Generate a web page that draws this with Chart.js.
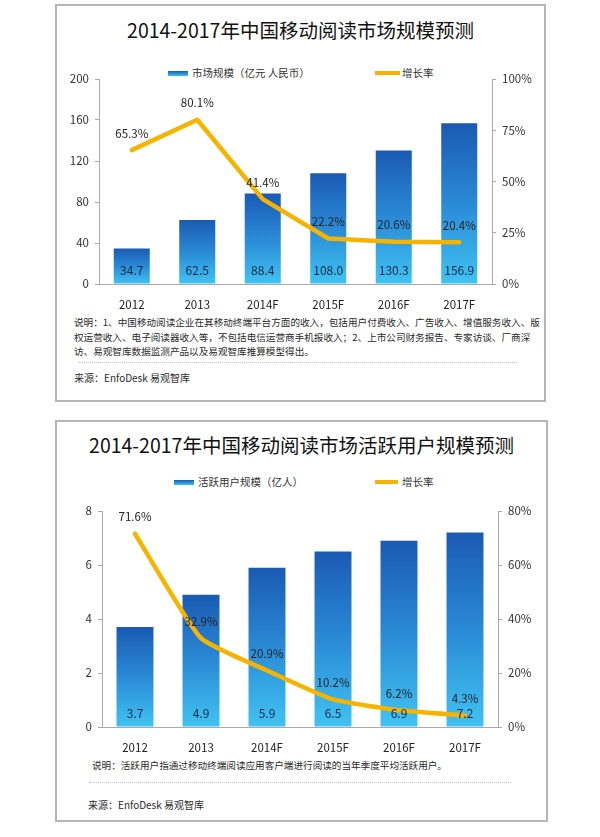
<!DOCTYPE html>
<html><head><meta charset="utf-8">
<script src="https://cdn.jsdelivr.net/npm/chart.js@4.4.1/dist/chart.umd.min.js"></script>
<style>
html,body{margin:0;padding:0;background:#fff;}
body{width:600px;height:837px;position:relative;overflow:hidden;font-family:"Noto Sans CJK SC","Noto Sans",sans-serif;color:#222;}
.panel{position:absolute;box-sizing:border-box;border:2px solid #b5b5b5;background:#fff;}
.abs{position:absolute;white-space:nowrap;}
.title{font-size:19.5px;font-weight:400;color:#111;text-align:center;line-height:24px;}
.leg{font-size:10.5px;color:#333;line-height:14px;}
.sw{position:absolute;height:5px;}
.note{font-size:9.6px;color:#2a2a2a;line-height:14.5px;}
.src{font-size:10px;color:#2a2a2a;line-height:14px;}
.sep{position:absolute;height:0;border-top:1px dotted #bdbdbd;}
canvas{position:absolute;}
</style></head>
<body>
<div class="panel" style="left:55px;top:4px;width:491px;height:398px;"></div>
<div class="panel" style="left:55px;top:420px;width:493px;height:402px;"></div>

<div id="t1" class="abs title" style="left:55px;width:491px;top:18px;"></div>
<div class="sw" style="left:168px;top:71px;width:20px;background:linear-gradient(#1b5cb5,#3ec0f0);"></div>
<div id="l1a" class="abs leg" style="left:192px;top:66px;"></div>
<div class="sw" style="left:375px;top:71px;width:25px;height:4px;background:#f6b300;"></div>
<div id="l1b" class="abs leg" style="left:402px;top:66px;"></div>
<canvas id="c1" width="488" height="250" style="left:56px;top:62px;width:488px;height:250px;"></canvas>
<div id="n1" class="abs note" style="left:74px;top:315px;"></div>
<div class="sep" style="left:79px;top:362px;width:438px;"></div>
<div id="s1" class="abs src" style="left:74px;top:371px;"></div>

<div id="t2" class="abs title" style="left:55px;width:493px;top:433px;"></div>
<div class="sw" style="left:174px;top:480px;width:20px;background:linear-gradient(#1b5cb5,#3ec0f0);"></div>
<div id="l2a" class="abs leg" style="left:198px;top:475px;"></div>
<div class="sw" style="left:375px;top:480px;width:23px;height:4px;background:#f6b300;"></div>
<div id="l2b" class="abs leg" style="left:402px;top:475px;"></div>
<canvas id="c2" width="490" height="262" style="left:56px;top:495px;width:490px;height:262px;"></canvas>
<div id="n2" class="abs note" style="left:92px;top:758px;"></div>
<div class="sep" style="left:89px;top:782px;width:422px;"></div>
<div id="s2" class="abs src" style="left:88px;top:798px;"></div>

<script>
// ---------- data ----------
const categories = ['2012','2013','2014F','2015F','2016F','2017F'];

const title1 = '2014-2017年中国移动阅读市场规模预测';
const barLabel1 = '市场规模（亿元 人民币）';
const lineLabel1 = '增长率';
const marketSize = [34.7, 62.5, 88.4, 108.0, 130.3, 156.9];
const marketGrowth = [65.3, 80.1, 41.4, 22.2, 20.6, 20.4];
const leftTicks1 = ['0','40','80','120','160','200'];
const rightTicks1 = ['0%','25%','50%','75%','100%'];
const notes1 = [
  '说明：1、中国移动阅读企业在其移动终端平台方面的收入，包括用户付费收入、广告收入、增值服务收入、版',
  '权运营收入、电子阅读器收入等，不包括电信运营商手机报收入；2、上市公司财务报告、专家访谈、厂商深',
  '访、易观智库数据监测产品以及易观智库推算模型得出。'
];
const source1 = '来源：EnfoDesk 易观智库';

const title2 = '2014-2017年中国移动阅读市场活跃用户规模预测';
const barLabel2 = '活跃用户规模（亿人）';
const lineLabel2 = '增长率';
const activeUsers = [3.7, 4.9, 5.9, 6.5, 6.9, 7.2];
const userGrowth = [71.6, 32.9, 20.9, 10.2, 6.2, 4.3];
const leftTicks2 = ['0','2','4','6','8'];
const rightTicks2 = ['0%','20%','40%','60%','80%'];
const notes2 = ['说明：活跃用户指通过移动终端阅读应用客户端进行阅读的当年季度平均活跃用户。'];
const source2 = '来源：EnfoDesk 易观智库';

// ---------- texts ----------
document.getElementById('t1').textContent = title1;
document.getElementById('l1a').textContent = barLabel1;
document.getElementById('l1b').textContent = lineLabel1;
document.getElementById('n1').innerHTML = notes1.join('<br>');
document.getElementById('s1').textContent = source1;
document.getElementById('t2').textContent = title2;
document.getElementById('l2a').textContent = barLabel2;
document.getElementById('l2b').textContent = lineLabel2;
document.getElementById('n2').innerHTML = notes2.join('<br>');
document.getElementById('s2').textContent = source2;

const FONT = '"Noto Sans CJK SC","Noto Sans",sans-serif';
const AXIS = '#a9a9a9';

function barGradient(ctx){
  const c = ctx.chart, ys = c.scales.y;
  if (!ys || ctx.type !== 'data') return '#2a7fd0';
  const top = ys.getPixelForValue(ctx.raw), bot = ys.getPixelForValue(0);
  if (!isFinite(top) || !isFinite(bot) || Math.abs(bot-top) < 1) return '#2a7fd0';
  const g = c.ctx.createLinearGradient(0, top, 0, bot);
  g.addColorStop(0, '#1a5ab3');
  g.addColorStop(0.5, '#2a8ad6');
  g.addColorStop(1, '#40c3f2');
  return g;
}

const labelPlugin = {
  id: 'vlabels',
  afterDatasetsDraw(chart){
    const ctx = chart.ctx;
    ctx.save();
    ctx.textAlign = 'center';
    ctx.textBaseline = 'middle';
    chart.data.datasets.forEach((ds, i) => {
      const meta = chart.getDatasetMeta(i);
      meta.data.forEach((el, j) => {
        const v = ds.data[j];
        if (ds.type === 'bar') {
          ctx.font = '12px ' + FONT;
          ctx.fillStyle = '#172846';
          ctx.fillText(v.toFixed(1), el.x, el.base - 13);
        } else {
          ctx.font = '11.5px ' + FONT;
          ctx.fillStyle = '#222';
          ctx.fillText(v.toFixed(1) + '%', el.x, el.y - 17);
        }
      });
    });
    ctx.restore();
  }
};

function makeChart(id, bars, line, yMax, yStep, y1Max, y1Step, lTicks, rTicks, geo, tension, barPct){
  return new Chart(document.getElementById(id), {
    data: {
      labels: categories,
      datasets: [
        { type:'line', data: line, yAxisID:'y1', order:0, borderColor:'#f6b300', borderWidth:4.5,
          pointRadius:0, tension: tension, borderJoinStyle:'round', borderCapStyle:'round', fill:false },
        { type:'bar', data: bars, yAxisID:'y', order:1, backgroundColor: barGradient,
          barPercentage: barPct, categoryPercentage: 1, borderWidth:0 }
      ]
    },
    options: {
      responsive:false, animation:false, devicePixelRatio:1,
      layout:{ padding:{ top: geo.top, bottom:0, left:0, right:0 } },
      plugins:{ legend:{display:false}, tooltip:{enabled:false} },
      scales:{
        x:{ grid:{display:false}, border:{display:true, color:AXIS, width:1},
            ticks:{ color:'#222', font:{family:FONT, size:11.5}, padding:6 },
            afterFit(s){ s.height = geo.xh; } },
        y:{ position:'left', min:0, max:yMax,
            ticks:{ stepSize:yStep, color:'#333', font:{family:FONT, size:11.5}, padding:6,
                    callback:(v,i)=>lTicks[i] },
            grid:{ drawOnChartArea:false, drawTicks:true, tickLength:4, color:AXIS },
            border:{ color:AXIS, width:1 },
            afterFit(s){ s.width = geo.yw; } },
        y1:{ position:'right', min:0, max:y1Max,
            ticks:{ stepSize:y1Step, color:'#333', font:{family:FONT, size:11.5}, padding:6,
                    callback:(v,i)=>rTicks[i] },
            grid:{ drawOnChartArea:false, drawTicks:true, tickLength:4, color:AXIS },
            border:{ color:AXIS, width:1 },
            afterFit(s){ s.width = geo.y1w; } }
      }
    },
    plugins:[labelPlugin]
  });
}

makeChart('c1', marketSize, marketGrowth, 200, 40, 100, 25, leftTicks1, rightTicks1,
  { top:17, xh:28, yw:43, y1w:52 }, 0, 0.55);
makeChart('c2', activeUsers, userGrowth, 8, 2, 80, 20, leftTicks2, rightTicks2,
  { top:16, xh:30, yw:46, y1w:48 }, 0.15, 0.56);
</script>
</body></html>
